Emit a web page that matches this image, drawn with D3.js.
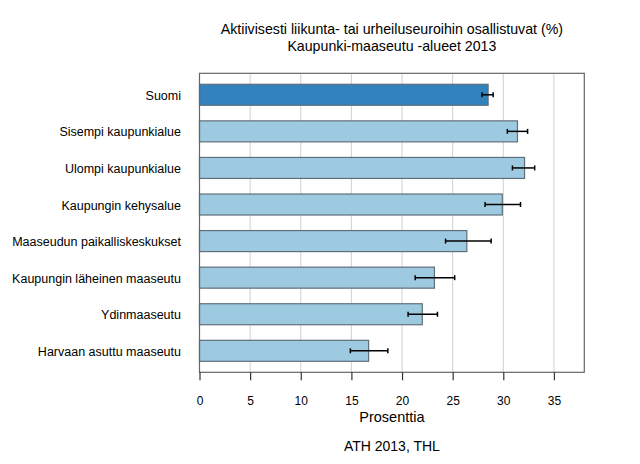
<!DOCTYPE html>
<html><head><meta charset="utf-8">
<script src="https://cdn.jsdelivr.net/npm/d3@7"></script>
<style>body{margin:0;background:#fff;} text{font-family:"Liberation Sans",Arial,sans-serif;fill:#000;}</style>
</head><body>
<svg id="c" width="640" height="464"></svg>
<script>
const categories = ["Suomi","Sisempi kaupunkialue","Ulompi kaupunkialue","Kaupungin kehysalue","Maaseudun paikalliskeskukset","Kaupungin läheinen maaseutu","Ydinmaaseutu","Harvaan asuttu maaseutu"];
const values = [28.5, 31.4, 32.1, 29.9, 26.4, 23.2, 22.0, 16.7];
const lower = [27.9, 30.4, 30.9, 28.2, 24.3, 21.3, 20.6, 14.9];
const upper = [29.0, 32.4, 33.1, 31.7, 28.8, 25.2, 23.5, 18.6];
const xTicks = [0,5,10,15,20,25,30,35];
const titleLines = ["Aktiivisesti liikunta- tai urheiluseuroihin osallistuvat (%)","Kaupunki-maaseutu -alueet 2013"];
const xLabel = "Prosenttia";
const source = "ATH 2013, THL";

const svg = d3.select("#c");
const L = 199.5, R = 584.3, T = 73.3, B = 372.3;
const x = d3.scaleLinear().domain([0,38]).range([L,R]);
const y = d3.scaleBand().domain(categories).range([76.5,369.1]).paddingInner(0.426).paddingOuter(0.213);

// grid
svg.append("g").selectAll("line").data(xTicks.filter(d=>d>0)).join("line")
  .attr("x1",d=>x(d)).attr("x2",d=>x(d)).attr("y1",T).attr("y2",B)
  .attr("stroke","#d0d0d0").attr("stroke-width",1);

// bars
svg.append("g").selectAll("rect").data(categories).join("rect")
  .attr("x",x(0)).attr("y",d=>y(d)).attr("height",y.bandwidth())
  .attr("width",(d,i)=>x(values[i])-x(0))
  .attr("fill",(d,i)=>i===0?"#3182bd":"#9ecae1")
  .attr("stroke","#5f6f7a").attr("stroke-width",1.2);

// error bars
const eb = svg.append("g").attr("stroke","#000").attr("stroke-width",1.5);
categories.forEach((c,i)=>{
  const cy = y(c)+y.bandwidth()/2;
  eb.append("line").attr("x1",x(lower[i])).attr("x2",x(upper[i])).attr("y1",cy).attr("y2",cy);
  eb.append("line").attr("x1",x(lower[i])).attr("x2",x(lower[i])).attr("y1",cy-2.5).attr("y2",cy+2.5);
  eb.append("line").attr("x1",x(upper[i])).attr("x2",x(upper[i])).attr("y1",cy-2.5).attr("y2",cy+2.5);
});

// frame
svg.append("rect").attr("x",L).attr("y",T).attr("width",R-L).attr("height",B-T)
  .attr("fill","none").attr("stroke","#666").attr("stroke-width",1.2);

// x axis
const xa = svg.append("g").attr("transform",`translate(0,${B})`)
  .call(d3.axisBottom(x).tickValues(xTicks).tickSize(8).tickPadding(16).tickFormat(d3.format("d")));
xa.select(".domain").remove();
xa.selectAll(".tick line").attr("stroke","#333").attr("stroke-width",1.2);
xa.selectAll(".tick text").style("font-size","12px").attr("fill","#000").style("font-family","Liberation Sans, Arial, sans-serif");

// category labels
svg.append("g").selectAll("text").data(categories).join("text")
  .attr("x",181).attr("y",d=>y(d)+y.bandwidth()/2).attr("dy","0.4em")
  .attr("text-anchor","end").style("font-size","12.5px").text(d=>d);

// titles
const cx = (L+R)/2;
svg.append("text").attr("x",cx).attr("y",34).attr("text-anchor","middle").style("font-size","14.2px").text(titleLines[0]);
svg.append("text").attr("x",cx).attr("y",51).attr("text-anchor","middle").style("font-size","14.2px").text(titleLines[1]);
svg.append("text").attr("x",cx).attr("y",422).attr("text-anchor","middle").style("font-size","14.5px").text(xLabel);
svg.append("text").attr("x",cx).attr("y",451).attr("text-anchor","middle").style("font-size","14px").text(source);
</script>
</body></html>
